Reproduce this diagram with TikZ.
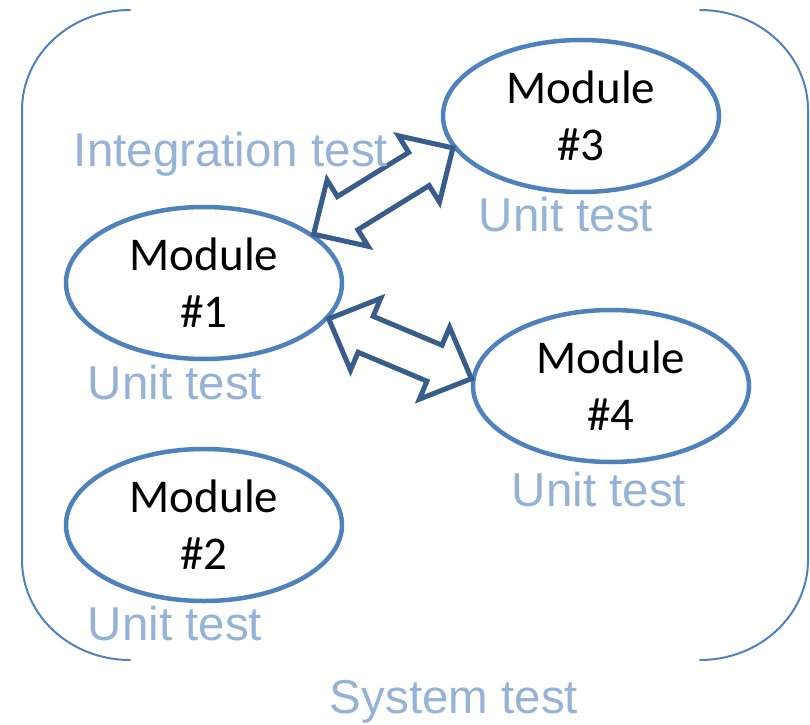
\documentclass[tikz,border=0pt]{standalone}
\usepackage{fontspec}
\setmainfont{Carlito}
\newfontfamily\lblfont{Liberation Sans}
\usetikzlibrary{calc,shapes.geometric}
\definecolor{modblue}{RGB}{79,129,189}
\definecolor{arrblue}{RGB}{56,93,138}
\definecolor{lblblue}{RGB}{149,179,215}
\tikzset{
	module/.style={ellipse, draw=modblue, line width=4.5pt, minimum width=276pt, minimum height=152pt, inner sep=0pt, align=center, font=\fontsize{47}{57}\selectfont},
	testlbl/.style={anchor=base, text=lblblue, font=\lblfont\fontsize{47.5}{55}\selectfont},
	dblarr/.style={draw=arrblue, fill=white, line width=5pt, line join=miter},
	sysline/.style={draw=modblue, line width=2pt}
}
% block arrow with two heads between two border points
\newcommand{\dblarrow}[2]{%
	\path[dblarr] (#1) -- ($(#1)!40pt!(#2)!39pt!90:(#2)$) -- ($(#1)!40pt!(#2)!19.5pt!90:(#2)$)
	-- ($(#2)!40pt!(#1)!19.5pt!-90:(#1)$) -- ($(#2)!40pt!(#1)!39pt!-90:(#1)$) -- (#2)
	-- ($(#2)!40pt!(#1)!39pt!90:(#1)$) -- ($(#2)!40pt!(#1)!19.5pt!90:(#1)$)
	-- ($(#1)!40pt!(#2)!19.5pt!-90:(#2)$) -- ($(#1)!40pt!(#2)!39pt!-90:(#2)$) -- cycle;}
\begin{document}
\begin{tikzpicture}[x=1pt, y=1pt, line join=round, line cap=round]
	\useasboundingbox (0,0) rectangle (810,724);
	\path 
	(204,441) coordinate (C1)
	(204,199) coordinate (C2)
	(581,608) coordinate (C3)
	(611,338) coordinate (C4)
	;
	% system test brackets
	\path[sysline] (130,714) arc[start angle=90, end angle=180, x radius=108, y radius=100]
	-- (22,164) arc[start angle=180, end angle=270, x radius=108, y radius=100];
	\path[sysline] (700,714) arc[start angle=90, end angle=0, x radius=108, y radius=100]
	-- (808,164) arc[start angle=0, end angle=-90, x radius=108, y radius=100];
	% modules
	\node[module] (m1) at (C1) {Module\\\#1};
	\node[module] (m2) at (C2) {Module\\\#2};
	\node[module] (m3) at (C3) {Module\\\#3};
	\node[module] (m4) at (C4) {Module\\\#4};
	% integration arrows
	\dblarrow{m1.24}{m3.194}
	\dblarrow{m1.-16}{m4.177.5}
	% labels
	\node[testlbl] (it) at (231,557) {Integration test};
	\node[testlbl] (u1) at (175,325) {Unit test};
	\node[testlbl] (u2) at (175,84) {Unit test};
	\node[testlbl] (u3) at (566,492) {Unit test};
	\node[testlbl] (u4) at (599,218) {Unit test};
	\node[testlbl] (st) at (454,11) {System test};
\end{tikzpicture}
\end{document}
